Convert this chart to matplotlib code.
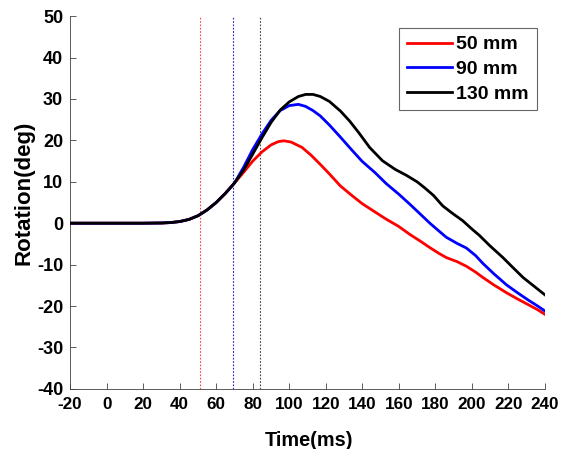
import numpy as np
from matplotlib import pyplot as plt

plt.rcParams['font.family'] = ['Liberation Sans', 'DejaVu Sans']
plt.rcParams['font.weight'] = 'bold'
plt.rcParams['axes.unicode_minus'] = False

# common rise (ms, deg)
t_rise = [-20, 0, 20, 30, 35, 40, 45, 50, 55, 60, 65, 70]
y_rise = [0, 0, 0, 0.05, 0.15, 0.4, 0.9, 1.8, 3.2, 5.0, 7.2, 9.7]

t_50 = [75, 80, 85, 90, 94, 97, 101, 107, 112, 117, 122, 128, 134, 140, 147, 153,
        160, 166, 172, 177, 182, 186, 192, 197, 202, 206, 212, 219, 225, 231, 236, 240]
y_50 = [12.3, 15.0, 17.2, 18.9, 19.7, 19.9, 19.6, 18.3, 16.4, 14.2, 11.9, 9.0, 6.8,
        4.7, 2.7, 1.0, -0.8, -2.7, -4.4, -5.9, -7.3, -8.3, -9.3, -10.4, -11.8, -13.1,
        -14.9, -16.8, -18.3, -19.7, -20.9, -22.0]

t_90 = [75, 80, 85, 90, 95, 100, 105, 109, 113, 117, 122, 128, 134, 140, 147, 153,
        160, 166, 172, 177, 182, 186, 192, 197, 202, 206, 212, 219, 225, 231, 236, 240]
y_90 = [13.5, 17.8, 21.5, 24.8, 27.2, 28.4, 28.7, 28.2, 27.2, 25.9, 23.7, 20.8,
        17.8, 14.9, 12.2, 9.6, 7.0, 4.6, 2.1, 0.0, -1.9, -3.4, -4.9, -6.0, -7.8, -9.7,
        -12.2, -14.9, -16.8, -18.6, -20.0, -21.2]

t_130 = [75, 80, 85, 90, 95, 100, 105, 109, 113, 117, 122, 128, 133, 138, 144, 151,
         158, 164, 170, 174, 179, 184, 189, 195, 200, 204, 210, 217, 222, 228, 234, 240]
y_130 = [12.8, 16.7, 20.6, 24.3, 27.3, 29.3, 30.6, 31.1, 31.1, 30.6, 29.4, 27.1,
         24.7, 21.9, 18.3, 15.1, 13.0, 11.6, 10.0, 8.6, 6.7, 4.2, 2.5, 0.6, -1.4, -2.9,
         -5.5, -8.3, -10.5, -13.1, -15.2, -17.3]

v_lines = [51, 69, 84]
v_colors = ['#ff4040', '#2020c0', '#404040']

series = [('50 mm', t_50, y_50, '#ff0000'),
          ('90 mm', t_90, y_90, '#0000ff'),
          ('130 mm', t_130, y_130, '#000000')]

fig = plt.figure(figsize=(5.7, 4.49), dpi=100)
ax = fig.add_axes([0.123, 0.134, 0.833, 0.830])

for xv, c in zip(v_lines, v_colors):
    ax.axvline(xv, color=c, lw=0.8, ls=(0, (1.5, 1.5)), zorder=1)

for name, t, y, c in series:
    ax.plot(t_rise + t, y_rise + y, color=c, lw=2.0, label=name, zorder=3)

ax.set_xlim(-20, 240)
ax.set_ylim(-40, 50)
ax.set_xticks(np.arange(-20, 241, 20))
ax.set_yticks(np.arange(-40, 51, 10))
ax.tick_params(direction='in', width=0.6, length=4, color='#404040')
ax.tick_params(axis='x', labelsize=12.3, pad=6)
ax.tick_params(axis='y', labelsize=13, pad=5)
for lab in ax.get_xticklabels() + ax.get_yticklabels():
    lab.set_fontweight('bold')
ax.spines['top'].set_visible(False)
ax.spines['right'].set_visible(False)
for s in ['left', 'bottom']:
    ax.spines[s].set_linewidth(0.6)
    ax.spines[s].set_color('#404040')

ax.set_xlabel('Time(ms)', fontsize=14.3, fontweight='bold')
ax.set_ylabel('Rotation(deg)', fontsize=16, fontweight='bold')
ax.xaxis.set_label_coords(0.503, -0.112)
ax.yaxis.set_label_coords(-0.075, 0.527)

leg = ax.legend(loc='upper right', bbox_to_anchor=(0.983, 0.968), fontsize=14,
                frameon=True, fancybox=False, handlelength=2.3, handletextpad=0.25,
                borderpad=0.4, labelspacing=0.36, borderaxespad=0)
leg.get_frame().set_edgecolor('#404040')
leg.get_frame().set_linewidth(0.8)
for txt in leg.get_texts():
    txt.set_fontweight('bold')

fig.savefig('out.png', dpi=100)
